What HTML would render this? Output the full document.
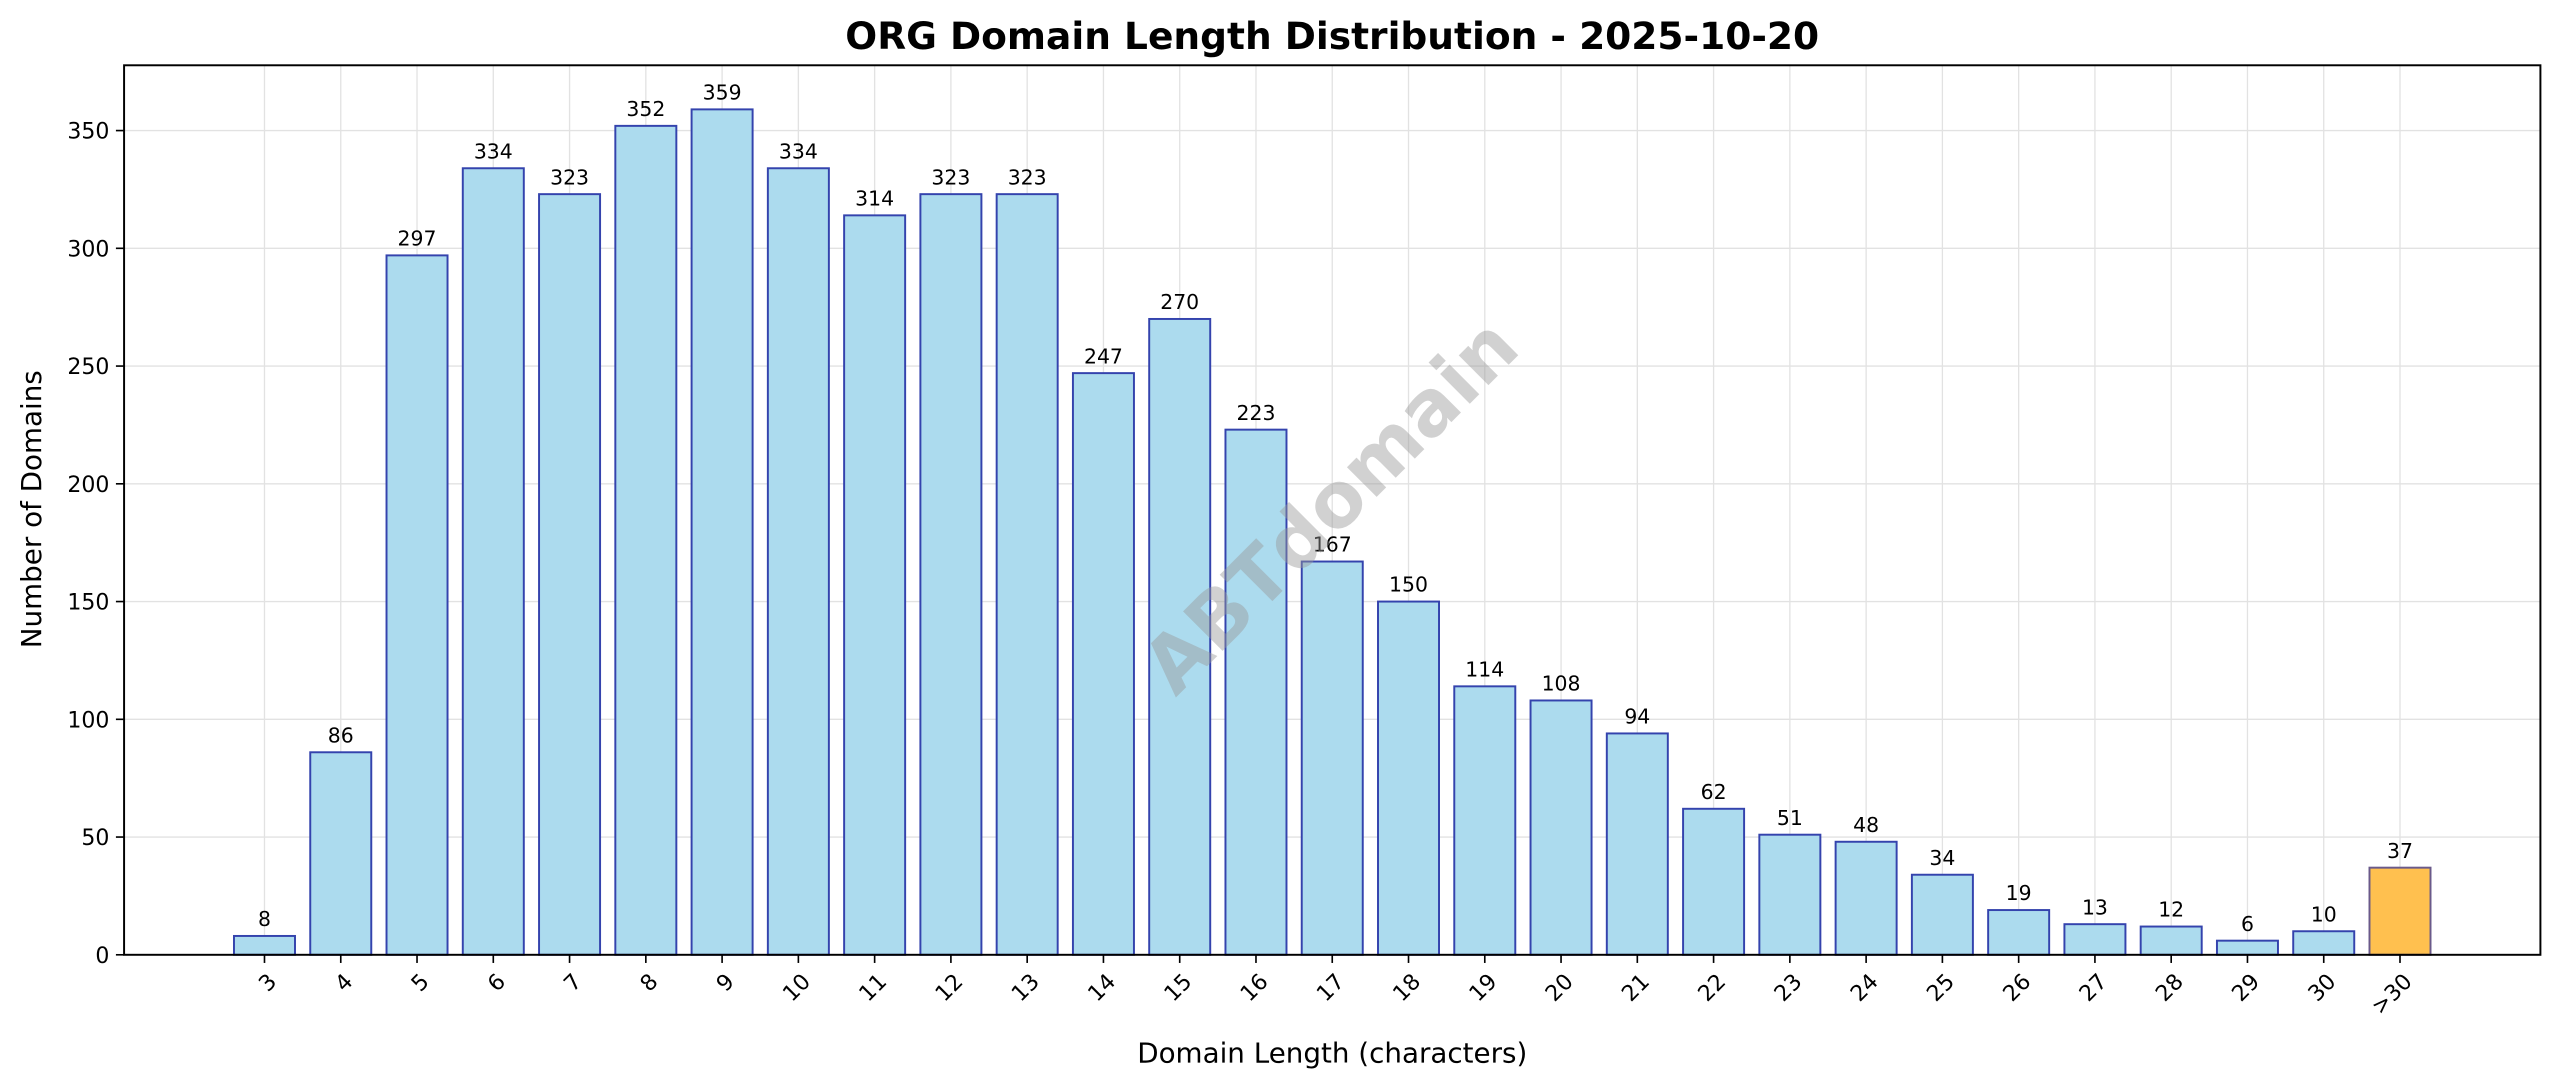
<!DOCTYPE html>
<html><head><meta charset="utf-8"><style>
html,body{margin:0;padding:0;background:#fff;}
svg{display:block;font-family:"DejaVu Sans","Liberation Sans",sans-serif;}
</style></head><body>
<svg id="s" width="2560" height="1087" viewBox="0 0 1568 666" preserveAspectRatio="none" xmlns="http://www.w3.org/2000/svg">
<rect width="1568" height="666" fill="#fff"/>
<g id="grid"></g>
<g id="bars"></g>
<text x="815" y="326" transform="rotate(-45 815 310)" text-anchor="middle" font-size="47" font-weight="bold" fill="#999" fill-opacity="0.45">ABTdomain</text>
<rect x="76" y="40" width="1480" height="545" fill="none" stroke="#000" stroke-width="1.2"/>
<g id="ticks"></g>
<text x="816" y="30" text-anchor="middle" font-size="23" font-weight="bold">ORG Domain Length Distribution - 2025-10-20</text>
<text x="816" y="651" text-anchor="middle" font-size="17">Domain Length (characters)</text>
<text x="25" y="312" transform="rotate(-90 25 312)" text-anchor="middle" font-size="17">Number of Domains</text>
</svg>
<script>
const vals=[8,86,297,334,323,352,359,334,314,323,323,247,270,223,167,150,114,108,94,62,51,48,34,19,13,12,6,10,37];
const labs=["3","4","5","6","7","8","9","10","11","12","13","14","15","16","17","18","19","20","21","22","23","24","25","26","27","28","29","30",">30"];
const n=labs.length, x0=162, dx=(1470-162)/(n-1), y0=585, k=505/350, w=dx*0.8;
const NS="http://www.w3.org/2000/svg";
function el(p,t,a,txt){const e=document.createElementNS(NS,t);for(const q in a)e.setAttribute(q,a[q]);if(txt!==undefined)e.textContent=txt;document.getElementById(p).appendChild(e);}
for(let v=0;v<=350;v+=50){const y=y0-v*k;
 if(v>0)el("grid","line",{x1:76,x2:1556,y1:y,y2:y,stroke:"#e2e2e2","stroke-width":0.8});
 el("ticks","line",{x1:71,x2:76,y1:y,y2:y,stroke:"#000","stroke-width":1});
 el("ticks","text",{x:67,y:y+5,"text-anchor":"end","font-size":13.5},String(v));}
for(let i=0;i<n;i++){const cx=x0+i*dx;
 el("grid","line",{x1:cx,x2:cx,y1:40,y2:585,stroke:"#e2e2e2","stroke-width":0.8});
 const h=vals[i]*k, last=i==n-1;
 el("bars","rect",{x:cx-w/2,y:y0-h,width:w,height:h,fill:last?"#ffc04f":"#acdbee",stroke:last?"#6a5a8a":"#3443ad","stroke-width":1.2});
 el("bars","text",{x:cx,y:y0-h-6,"text-anchor":"middle","font-size":12.5},String(vals[i]));
 el("ticks","line",{x1:cx,x2:cx,y1:585,y2:590,stroke:"#000","stroke-width":1});
 el("ticks","text",{x:cx+1,y:595,"text-anchor":"end","font-size":13.5,transform:`rotate(-45 ${cx+1} 595)`,dy:"0.75em"},labs[i]);}
</script>
</body></html>
